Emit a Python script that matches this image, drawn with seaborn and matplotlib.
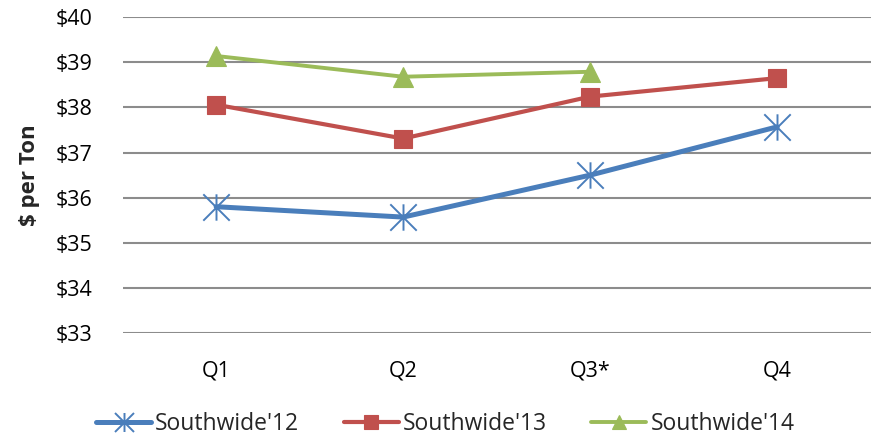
import matplotlib
matplotlib.use("Agg")
import matplotlib.pyplot as plt
from matplotlib.path import Path
import seaborn as sns
import pandas as pd

quarters = ["Q1", "Q2", "Q3*", "Q4"]
sw12 = [35.80, 35.57, 36.50, 37.57]
sw13 = [38.06, 37.31, 38.24, 38.65]
sw14 = [39.14, 38.68, 38.79]

series = [
    ("Southwide'12", sw12),
    ("Southwide'13", sw13),
    ("Southwide'14", sw14),
]

rows = []
for name, vals in series:
    for q, v in zip(quarters, vals):
        rows.append({"quarter": q, "price": v, "series": name})
df = pd.DataFrame(rows)

sns.set_style("white")
plt.rcParams["font.family"] = ["Open Sans", "DejaVu Sans"]

# Excel-style asterisk: an X with a vertical stroke through it
star = Path(
    [(0, -1), (0, 1), (-1, -1), (1, 1), (-1, 1), (1, -1)],
    [Path.MOVETO, Path.LINETO, Path.MOVETO, Path.LINETO, Path.MOVETO, Path.LINETO],
)

styles = {
    "Southwide'12": dict(color="#4A7EBB", lw=3.6, marker=star, ms=19,
                         mfc="none", mec="#4A7EBB", mew=1.4),
    "Southwide'13": dict(color="#C0504D", lw=3.0, marker="s", ms=13.5,
                         mec="#C0504D", mew=0.8),
    "Southwide'14": dict(color="#9BBB59", lw=2.8, marker="^", ms=14,
                         mec="#9BBB59", mew=0.8),
}

fig = plt.figure(figsize=(8.76, 4.40), dpi=100)
ax = fig.add_axes([0.140, 0.243, 0.854, 0.718])

for name, _ in series:
    st = styles[name]
    sns.lineplot(
        data=df[df["series"] == name], x="quarter", y="price", ax=ax,
        color=st["color"], linewidth=st["lw"], marker=st["marker"],
        markersize=st["ms"], markerfacecolor=st.get("mfc", st["color"]),
        markeredgecolor=st["mec"], markeredgewidth=st["mew"],
        label=name, sort=False, errorbar=None, solid_joinstyle="round",
    )

ax.set_ylim(33, 40)
ax.set_xlim(-0.5, 3.5)
ax.set_yticks(range(33, 41))
ax.set_yticklabels([f"${v}" for v in range(33, 41)])
ax.yaxis.grid(True, color="#8C8C8C", linewidth=1.5)
ax.set_axisbelow(True)
for s in ["top", "right", "left", "bottom"]:
    ax.spines[s].set_visible(False)
ax.tick_params(axis="y", length=0, pad=21.5, labelsize=15.5, labelcolor="#000000")
ax.tick_params(axis="x", length=0, pad=20, labelsize=15.5, labelcolor="#000000")
ax.set_xlabel("")
ax.set_ylabel("$ per Ton", fontsize=16, fontweight="bold")
ax.yaxis.set_label_coords(-0.110, 0.5)

handles, labels = ax.get_legend_handles_labels()
if ax.get_legend():
    ax.get_legend().remove()
leg = fig.legend(
    handles, labels, loc="center left", bbox_to_anchor=(0.1096, 0.036),
    ncol=3, frameon=False, fontsize=16.5, handlelength=2.4,
    handletextpad=0.17, columnspacing=1.95, borderpad=0, borderaxespad=0,
)
for h in leg.legend_handles:
    h.set_markersize(h.get_markersize() * 0.72)

fig.savefig("out.png", dpi=100)
